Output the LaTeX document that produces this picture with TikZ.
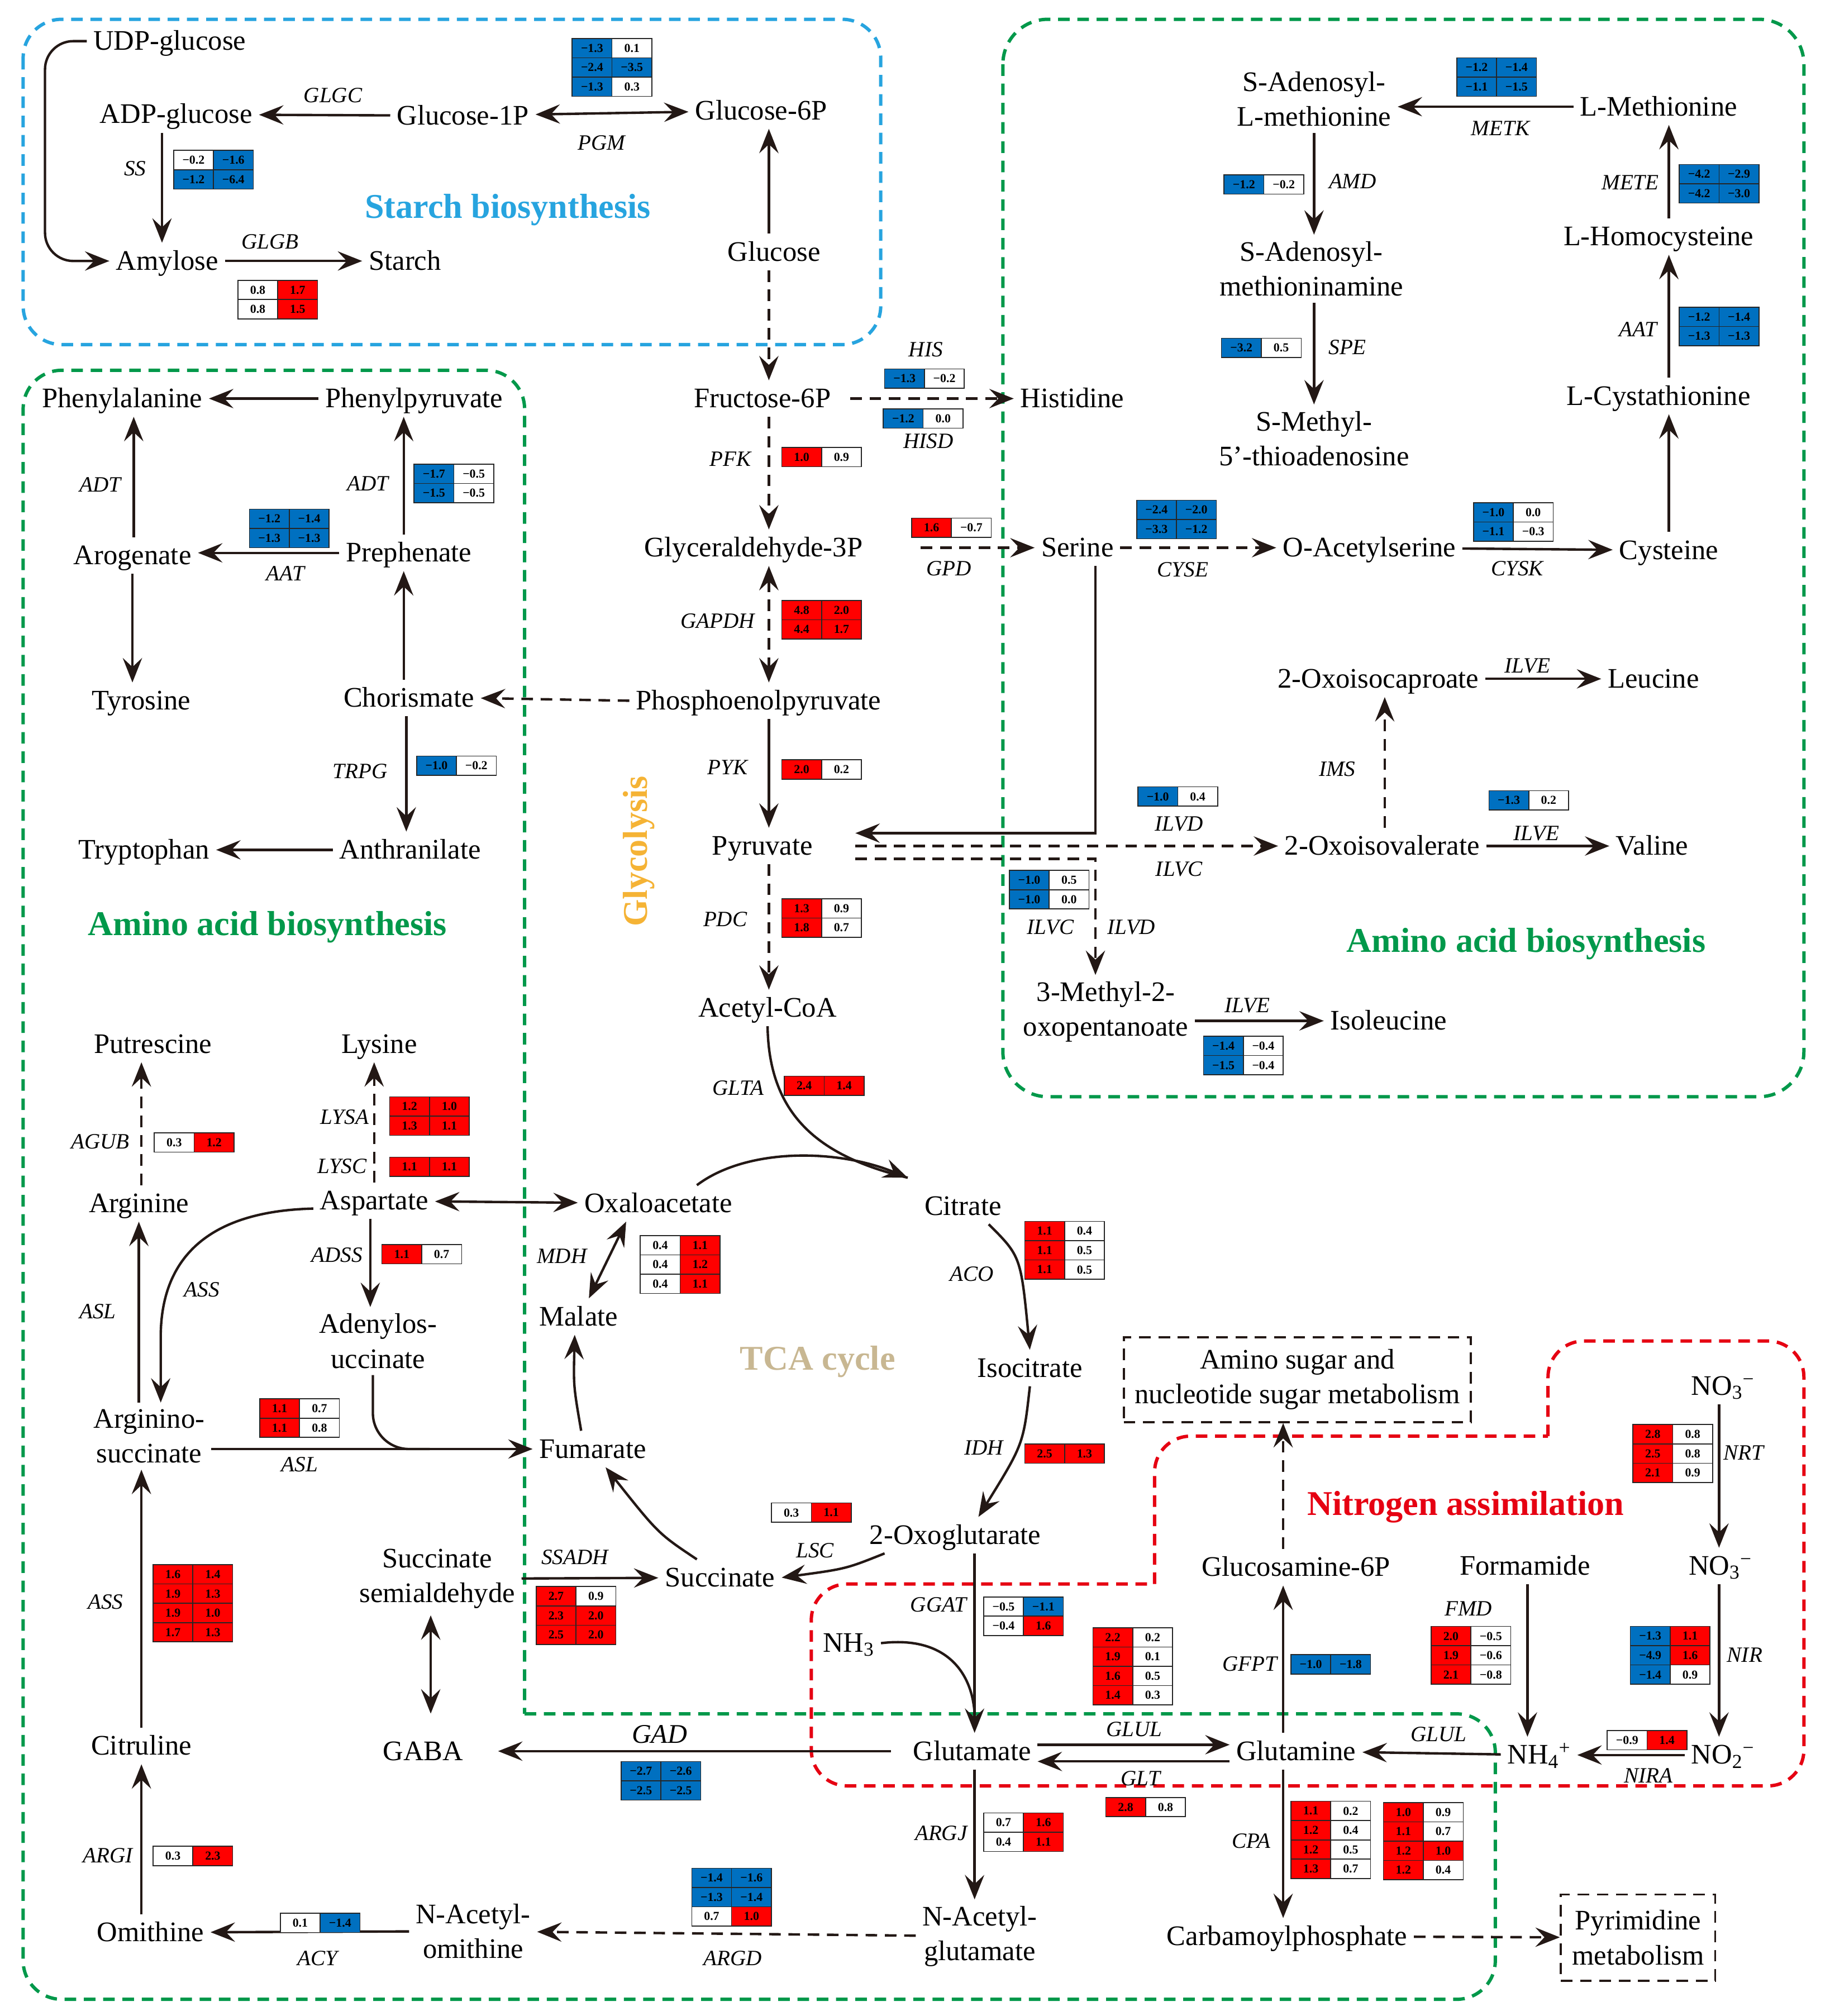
\documentclass[tikz,border=0pt]{standalone}
\usepackage{fontspec}
\setmainfont{Liberation Serif}
\usetikzlibrary{arrows.meta}
\definecolor{arr}{HTML}{231815}
\definecolor{hB}{HTML}{0070C0}
\definecolor{hR}{HTML}{FF0000}
\definecolor{hW}{HTML}{FFFFFF}
\definecolor{sky}{HTML}{27A4DF}
\definecolor{grn}{HTML}{00984A}
\definecolor{nred}{HTML}{E60012}
\definecolor{tcac}{HTML}{C8B792}
\definecolor{glyc}{HTML}{F5B335}
\newcommand\hr[6]{%
  \node[hc,fill=#3] (h#1-#2a) at ({#1+15.5},{#2+7.5}) {#4};
  \node[hc,fill=#5] (h#1-#2b) at ({#1+46.5},{#2+7.5}) {#6};}
\begin{document}
\begin{tikzpicture}[x=1pt,y=-1pt,
  met/.style={font=\fontsize{22}{27}\selectfont, inner sep=5pt, text height=16pt, text depth=2pt},
  metm/.style={font=\fontsize{22}{27}\selectfont, inner sep=5pt, align=center},
  enz/.style={font=\itshape\fontsize{17}{20}\selectfont, inner sep=1pt},
  ttl/.style={font=\bfseries\fontsize{27}{30}\selectfont, inner sep=0pt},
  hc/.style={draw=black!85, line width=0.7pt, minimum width=31pt, minimum height=15pt, inner sep=0pt, font=\bfseries\fontsize{9.5}{10}\selectfont},
  ln/.style={draw=arr, line width=1.9pt},
  ahead/.style={-{Stealth[length=19pt,width=15pt,inset=7pt]}},
  ar/.style={ln, ahead},
  arb/.style={ln, {Stealth[length=19pt,width=15pt,inset=7pt]}-{Stealth[length=19pt,width=15pt,inset=7pt]}},
  dsh/.style={dash pattern=on 9pt off 6pt},
  gbox/.style={draw=grn, line width=2.6pt, dash pattern=on 9pt off 6pt},
  bbox/.style={draw=sky, line width=2.6pt, dash pattern=on 9pt off 6pt},
  rbox/.style={draw=nred, line width=2.6pt, dash pattern=on 9pt off 6pt},
  kbox/.style={metm, draw=arr, line width=1.6pt, dash pattern=on 9pt off 6pt, inner sep=2pt}]
\useasboundingbox (0,0) rectangle (1423,1568);
\fill[white] (0,0) rectangle (1423,1568);

% ---------- region frames ----------
\draw[bbox, rounded corners=30pt] (18,15) rectangle (685,268);
\draw[gbox, rounded corners=35pt] (780,15) rectangle (1403,853);
\draw[gbox, rounded corners=30pt] (408,1333) -- (1163,1333) -- (1163,1555) -- (18,1555) -- (18,288) -- (408,288) -- (408,1333);
\draw[rbox, rounded corners=28pt] (1204,1117) -- (1204,1043) -- (1403,1043) -- (1403,1389) -- (631,1389) -- (631,1232) -- (898,1232);
\draw[rbox, rounded corners=28pt] (898,1232) -- (898,1117) -- (1204,1117);

% ---------- titles ----------
\node[ttl,text=sky] (t1) at (395,163) {Starch biosynthesis};
\node[ttl,text=grn] (t2) at (208,721) {Amino acid biosynthesis};
\node[ttl,text=grn] (t3) at (1187,734) {Amino acid biosynthesis};
\node[ttl,text=tcac] (t4) at (636,1059) {TCA cycle};
\node[ttl,text=nred] (t5) at (1140,1172) {Nitrogen assimilation};
\node[ttl,text=glyc,rotate=90] (t6) at (497,662) {Glycolysis};

% ---------- metabolites ----------
\node[met] (udp) at (132,32) {UDP-glucose};
\node[met] (adp) at (137,89) {ADP-glucose};
\node[met] (g1p) at (360,90) {Glucose-1P};
\node[met] (g6p) at (592,86) {Glucose-6P};
\node[met] (amy) at (130,203) {Amylose};
\node[met] (starch) at (315,203) {Starch};
\node[met] (glc) at (602,196) {Glucose};
\node[metm] (sam) at (1022,77) {S-Adenosyl-\\L-methionine};
\node[met] (lmet) at (1290,83) {L-Methionine};
\node[metm] (samn) at (1020,209) {S-Adenosyl-\\methioninamine};
\node[metm] (mta) at (1022,341) {S-Methyl-\\5’-thioadenosine};
\node[met] (hcy) at (1290,184) {L-Homocysteine};
\node[met] (cysth) at (1290,308) {L-Cystathionine};
\node[met] (cys) at (1298,428) {Cysteine};
\node[met] (ser) at (838,426) {Serine};
\node[met] (oas) at (1065,426) {O-Acetylserine};
\node[met] (his) at (834,310) {Histidine};
\node[met] (f6p) at (593,310) {Fructose-6P};
\node[met] (g3p) at (586,426) {Glyceraldehyde-3P};
\node[met] (pep) at (590,545) {Phosphoenolpyruvate};
\node[met] (pyr) at (593,658) {Pyruvate};
\node[met] (oiv) at (1075,658) {2-Oxoisovalerate};
\node[met] (oic) at (1072,528) {2-Oxoisocaproate};
\node[met] (leu) at (1286,528) {Leucine};
\node[met] (val) at (1285,658) {Valine};
\node[metm] (mop) at (860,787) {3-Methyl-2-\\oxopentanoate};
\node[met] (ile) at (1080,794) {Isoleucine};
\node[met] (acoa) at (597,784) {Acetyl-CoA};
\node[met] (phe) at (95,310) {Phenylalanine};
\node[met] (phpyr) at (322,310) {Phenylpyruvate};
\node[met] (arog) at (103,432) {Arogenate};
\node[met] (preph) at (318,430) {Prephenate};
\node[met] (tyr) at (110,545) {Tyrosine};
\node[met] (chor) at (318,543) {Chorismate};
\node[met] (anth) at (319,661) {Anthranilate};
\node[met] (trp) at (112,661) {Tryptophan};
\node[met] (put) at (119,812) {Putrescine};
\node[met] (lys) at (295,812) {Lysine};
\node[met] (arg) at (108,936) {Arginine};
\node[met] (asp) at (291,934) {Aspartate};
\node[met] (oaa) at (512,936) {Oxaloacetate};
\node[met] (cit) at (749,938) {Citrate};
\node[metm] (argsuc) at (116,1117) {Arginino-\\succinate};
\node[metm] (aden) at (294,1043) {Adenylos-\\uccinate};
\node[met] (mal) at (450,1024) {Malate};
\node[met] (fum) at (461,1127) {Fumarate};
\node[met] (icit) at (801,1064) {Isocitrate};
\node[met] (oxg) at (743,1194) {2-Oxoglutarate};
\node[met] (suc) at (560,1227) {Succinate};
\node[metm] (ssa) at (340,1228) {Succinate\\semialdehyde};
\node[met] (gaba) at (329,1362) {GABA};
\node[met] (glu) at (756,1362) {Glutamate};
\node[met] (gln) at (1008,1362) {Glutamine};
\node[met] (citr) at (110,1358) {Citruline};
\node[met] (orn) at (117,1503) {Omithine};
\node[metm] (nacorn) at (368,1502) {N-Acetyl-\\omithine};
\node[metm] (nacglu) at (762,1506) {N-Acetyl-\\glutamate};
\node[met] (nh3) at (660,1278) {NH\textsubscript{3}};
\node[met] (gam) at (1008,1219) {Glucosamine-6P};
\node[met] (carb) at (1001,1506) {Carbamoylphosphate};
\node[met] (form) at (1186,1218) {Formamide};
\node[met] (nh4) at (1197,1365) {NH\textsubscript{4}\textsuperscript{+}};
\node[met] (no3a) at (1340,1078) {NO\textsubscript{3}\textsuperscript{−}};
\node[met] (no3b) at (1338,1218) {NO\textsubscript{3}\textsuperscript{−}};
\node[met] (no2) at (1340,1365) {NO\textsubscript{2}\textsuperscript{−}};
\node[kbox, minimum width=270pt, minimum height=66pt] (amino) at (1009,1073) {Amino sugar and\\nucleotide sugar metabolism};
\node[kbox, minimum width=120pt, minimum height=67pt] (pyrim) at (1274,1507) {Pyrimidine\\metabolism};
\coordinate (tipc) at (706,916);
\coordinate (w1) at (35,32);
\coordinate (w2) at (35,203);

% ---------- connectors ----------
\draw[ar, rounded corners=22pt] (udp.west) -- (w1) -- (w2) -- (amy.west);
\draw[ar] (g1p) -- (adp);
\draw[arb] (g1p) -- (g6p);
\draw[ar] ([xshift=-11pt]adp.south) -- ([xshift=-11pt]adp.south |- amy.north);
\draw[ar] (amy) -- (starch);
\draw[ar] ([xshift=-4pt]glc.north) -- ([xshift=-4pt]glc.north |- g6p.south);
\draw[ar,dsh] ([xshift=-4pt]glc.south) -- ([xshift=-4pt]glc.south |- f6p.north);
\draw[ar,dsh] ([xshift=5pt]f6p.south) -- ([xshift=5pt]f6p.south |- g3p.north);
\draw[arb,dsh] ([xshift=12pt]g3p.south) -- ([xshift=12pt]g3p.south |- pep.north);
\draw[ar,dsh] (pep.west) -- (chor.east);
\draw[ar] ([xshift=8pt]pep.south) -- ([xshift=8pt]pep.south |- pyr.north);
\draw[ar,dsh] ([xshift=5pt]pyr.south) -- ([xshift=5pt]pyr.south |- acoa.north);
\draw[ar] ([xshift=14pt]ser.south) |- ([xshift=28pt,yshift=10pt]pyr.east);
\draw[ar,dsh] ([xshift=28pt]pyr.east) -- (oiv.west);
\draw[ar,dsh] ([xshift=28pt,yshift=-10pt]pyr.east) -| ([xshift=-8pt]mop.north);
\draw[ar,dsh] (ser) -- (oas);
\draw[ar] (oas) -- (cys);
\draw[ar] (cys.north) -- (cys.north |- cysth.south);
\draw[ar] ([xshift=8pt]cysth.north) -- ([xshift=8pt]cysth.north |- hcy.south);
\draw[ar] ([xshift=8pt]hcy.north) -- ([xshift=8pt]hcy.north |- lmet.south);
\draw[ar] (lmet.west) -- (lmet.west -| sam.east);
\draw[ar] (sam.south) -- (sam.south |- samn.north);
\draw[ar] ([xshift=2pt]samn.south) -- ([xshift=2pt]samn.south |- mta.north);
\draw[ar,dsh] ([xshift=10pt]f6p.east) -- (his.west);
\draw[ar,dsh] ([xshift=40pt]g3p.east) -- (ser.west);
\draw[ar,dsh] ([xshift=2pt]oiv.north) -- ([xshift=2pt]oiv.north |- oic.south);
\draw[ar] (oic) -- (leu);
\draw[ar] (oiv) -- (val);
\draw[ar] (mop.east |- ile.west) -- (ile.west);
\draw[ar] (phpyr) -- (phe);
\draw[ar] ([xshift=1pt]arog.north) -- ([xshift=1pt]arog.north |- phe.south);
\draw[ar] ([xshift=-4pt]preph.north) -- ([xshift=-4pt]preph.north |- phpyr.south);
\draw[ar] (preph.west) -- (preph.west -| arog.east);
\draw[ar] (arog.south) -- (arog.south |- tyr.north);
\draw[ar] ([xshift=-4pt]chor.north) -- ([xshift=-4pt]chor.north |- preph.south);
\draw[ar] ([xshift=-2pt]chor.south) -- ([xshift=-2pt]chor.south |- anth.north);
\draw[ar] (anth) -- (trp);
\draw[ar,dsh] ([xshift=2pt]arg.north) -- ([xshift=2pt]arg.north |- put.south);
\draw[ar,dsh] (asp.north) -- (asp.north |- lys.south);
\draw[arb] (asp) -- (oaa);
\draw[ar] ([yshift=-6pt]asp.west) .. controls (160,942) and (125,980) .. (125,1040) -- ([xshift=9pt]argsuc.north);
\draw[ar] ([xshift=-8pt]argsuc.north) -- ([xshift=-8pt]argsuc.north |- arg.south);
\draw[ar] ([xshift=-3pt]asp.south) -- ([xshift=-3pt]asp.south |- aden.north);
\draw[ar] (argsuc.east |- fum.west) -- (fum.west);
\draw[ln, rounded corners=28pt] ([xshift=-4pt]aden.south) |- ([xshift=-80pt]fum.west);
\draw[ar] ([xshift=-9pt]fum.north) .. controls +(-6,-35) .. ([xshift=-3pt]mal.south);
\draw[arb] ([xshift=8pt]mal.north) -- ([xshift=-25pt]oaa.south);
\draw[ln] (acoa.south) .. controls (598,870) and (640,900) .. (tipc);
\draw[ar] ([xshift=30pt]oaa.north) .. controls (580,893) and (650,893) .. (tipc);
\draw[ar] ([xshift=20pt]cit.south) .. controls +(25,25) .. (icit.north);
\draw[ar] (icit.south) .. controls +(-5,45) .. ([xshift=18pt]oxg.north);
\draw[ar] ([xshift=-55pt]oxg.south) .. controls +(-30,12) .. (suc.east);
\draw[ar] ([xshift=-18pt]suc.north) .. controls +(-30,-20) .. ([xshift=10pt]fum.south);
\draw[ar] (ssa) -- (suc);
\draw[arb] ([xshift=-5pt]ssa.south) -- ([xshift=-5pt,yshift=15pt]ssa.south |- gaba.north);
\draw[ar] ([xshift=-12pt]glu.west) -- ([xshift=22pt]gaba.east);
\draw[ar] (citr.north) -- (citr.north |- argsuc.south);
\draw[ar] ([xshift=-7pt]orn.north) -- ([xshift=-7pt]orn.north |- citr.south);
\draw[ar] (nacorn) -- (orn);
\draw[ar,dsh] (nacglu) -- (nacorn);
\draw[ar] ([xshift=15pt]oxg.south) -- ([xshift=15pt]oxg.south |- glu.north);
\draw[ln] (nh3.east) .. controls (735,1272) and (756,1300) .. ([xshift=2pt,yshift=15pt]glu.north);
\draw[ar] ([xshift=2pt]glu.south) -- ([xshift=2pt]glu.south |- nacglu.north);
\draw[ar] ([yshift=5pt]glu.east) -- ([yshift=5pt]gln.west);
\draw[ar] ([yshift=-8pt]gln.west) -- ([yshift=-8pt]glu.east);
\draw[ar] ([xshift=-10pt]gln.north) -- ([xshift=-10pt]gln.north |- gam.south);
\draw[ar,dsh] ([xshift=-10pt]gam.north) -- ([xshift=-10pt]gam.north |- amino.south);
\draw[ar] ([xshift=-10pt]gln.south) -- ([xshift=-10pt]gln.south |- carb.north);
\draw[ar,dsh] (carb) -- (pyrim);
\draw[ar] ([xshift=2pt]form.south) -- ([xshift=2pt]form.south |- nh4.north);
\draw[ar] (nh4) -- (gln);
\draw[ar] ([xshift=-3pt]no3a.south) -- ([xshift=-3pt]no3a.south |- no3b.north);
\draw[ar] ([xshift=-1pt]no3b.south) -- ([xshift=-1pt]no3b.south |- no2.north);
\draw[ar] (no2) -- (nh4);

% ---------- enzyme labels ----------
\node[enz] (lGLGC) at (259,74) {GLGC};
\node[enz] (lPGM) at (468,111) {PGM};
\node[enz] (lSS) at (105,131) {SS};
\node[enz] (lGLGB) at (210,188) {GLGB};
\node[enz] (lMETK) at (1167,100) {METK};
\node[enz] (lAMD) at (1052,141) {AMD};
\node[enz] (lMETE) at (1268,142) {METE};
\node[enz] (lSPE) at (1048,270) {SPE};
\node[enz] (lAAT1) at (1274,256) {AAT};
\node[enz] (lHIS) at (720,272) {HIS};
\node[enz] (lHISD) at (722,343) {HISD};
\node[enz] (lPFK) at (568,357) {PFK};
\node[enz] (lGPD) at (738,442) {GPD};
\node[enz] (lCYSE) at (920,443) {CYSE};
\node[enz] (lCYSK) at (1180,442) {CYSK};
\node[enz] (lADT1) at (78,377) {ADT};
\node[enz] (lADT2) at (286,376) {ADT};
\node[enz] (lAAT2) at (222,446) {AAT};
\node[enz] (lTRPG) at (280,600) {TRPG};
\node[enz] (lGAPDH) at (558,483) {GAPDH};
\node[enz] (lPYK) at (566,597) {PYK};
\node[enz] (lPDC) at (564,715) {PDC};
\node[enz] (lILVD1) at (917,641) {ILVD};
\node[enz] (lILVC1) at (917,676) {ILVC};
\node[enz] (lILVC2) at (817,721) {ILVC};
\node[enz] (lILVD2) at (880,721) {ILVD};
\node[enz] (lIMS) at (1040,598) {IMS};
\node[enz] (lILVE1) at (1188,518) {ILVE};
\node[enz] (lILVE2) at (1195,648) {ILVE};
\node[enz] (lILVE3) at (970,782) {ILVE};
\node[enz] (lGLTA) at (574,846) {GLTA};
\node[enz] (lAGUB) at (78,888) {AGUB};
\node[enz] (lLYSA) at (268,869) {LYSA};
\node[enz] (lLYSC) at (266,907) {LYSC};
\node[enz] (lADSS) at (262,976) {ADSS};
\node[enz] (lASS1) at (157,1003) {ASS};
\node[enz] (lASL1) at (76,1020) {ASL};
\node[enz] (lMDH) at (437,977) {MDH};
\node[enz] (lACO) at (756,991) {ACO};
\node[enz] (lASL2) at (233,1139) {ASL};
\node[enz] (lIDH) at (765,1126) {IDH};
\node[enz] (lLSC) at (634,1206) {LSC};
\node[enz] (lSSADH) at (447,1211) {SSADH};
\node[enz] (lASS2) at (82,1246) {ASS};
\node[enz] (lGGAT) at (730,1248) {GGAT};
\node[enz] (lGFPT) at (972,1294) {GFPT};
\node[enz] (lFMD) at (1142,1251) {FMD};
\node[enz] (lNRT) at (1356,1130) {NRT};
\node[enz] (lNIR) at (1357,1287) {NIR};
\node[enz,font=\itshape\fontsize{21}{24}\selectfont] (lGAD) at (513,1349) {GAD};
\node[enz] (lGLUL1) at (882,1345) {GLUL};
\node[enz] (lGLT) at (887,1383) {GLT};
\node[enz] (lGLUL2) at (1119,1349) {GLUL};
\node[enz] (lNIRA) at (1282,1381) {NIRA};
\node[enz] (lARGJ) at (732,1426) {ARGJ};
\node[enz] (lCPA) at (973,1432) {CPA};
\node[enz] (lARGI) at (84,1443) {ARGI};
\node[enz] (lACY) at (247,1523) {ACY};
\node[enz] (lARGD) at (570,1523) {ARGD};

% ---------- heat-map boxes ----------
\hr{445}{30}{hB}{−1.3}{hW}{0.1}
\hr{445}{45}{hB}{−2.4}{hB}{−3.5}
\hr{445}{60}{hB}{−1.3}{hW}{0.3}
\hr{135}{117}{hW}{−0.2}{hB}{−1.6}
\hr{135}{132}{hB}{−1.2}{hB}{−6.4}
\hr{185}{218}{hW}{0.8}{hR}{1.7}
\hr{185}{233}{hW}{0.8}{hR}{1.5}
\hr{1133}{45}{hB}{−1.2}{hB}{−1.4}
\hr{1133}{60}{hB}{−1.1}{hB}{−1.5}
\hr{952}{136}{hB}{−1.2}{hW}{−0.2}
\hr{1306}{128}{hB}{−4.2}{hB}{−2.9}
\hr{1306}{143}{hB}{−4.2}{hB}{−3.0}
\hr{950}{263}{hB}{−3.2}{hW}{0.5}
\hr{1306}{239}{hB}{−1.2}{hB}{−1.4}
\hr{1306}{254}{hB}{−1.3}{hB}{−1.3}
\hr{688}{287}{hB}{−1.3}{hW}{−0.2}
\hr{687}{318}{hB}{−1.2}{hW}{0.0}
\hr{608}{348}{hR}{1.0}{hW}{0.9}
\hr{709}{403}{hR}{1.6}{hW}{−0.7}
\hr{884}{389}{hB}{−2.4}{hB}{−2.0}
\hr{884}{404}{hB}{−3.3}{hB}{−1.2}
\hr{1146}{391}{hB}{−1.0}{hW}{0.0}
\hr{1146}{406}{hB}{−1.1}{hW}{−0.3}
\hr{322}{361}{hB}{−1.7}{hW}{−0.5}
\hr{322}{376}{hB}{−1.5}{hW}{−0.5}
\hr{194}{396}{hB}{−1.2}{hB}{−1.4}
\hr{194}{411}{hB}{−1.3}{hB}{−1.3}
\hr{608}{467}{hR}{4.8}{hR}{2.0}
\hr{608}{482}{hR}{4.4}{hR}{1.7}
\hr{324}{588}{hB}{−1.0}{hW}{−0.2}
\hr{608}{591}{hR}{2.0}{hW}{0.2}
\hr{885}{612}{hB}{−1.0}{hW}{0.4}
\hr{1158}{615}{hB}{−1.3}{hW}{0.2}
\hr{785}{677}{hB}{−1.0}{hW}{0.5}
\hr{785}{692}{hB}{−1.0}{hW}{0.0}
\hr{608}{699}{hR}{1.3}{hW}{0.9}
\hr{608}{714}{hR}{1.8}{hW}{0.7}
\hr{936}{806}{hB}{−1.4}{hW}{−0.4}
\hr{936}{821}{hB}{−1.5}{hW}{−0.4}
\hr{610}{837}{hR}{2.4}{hR}{1.4}
\hr{303}{853}{hR}{1.2}{hR}{1.0}
\hr{303}{868}{hR}{1.3}{hR}{1.1}
\hr{120}{881}{hW}{0.3}{hR}{1.2}
\hr{303}{900}{hR}{1.1}{hR}{1.1}
\hr{498}{961}{hW}{0.4}{hR}{1.1}
\hr{498}{976}{hW}{0.4}{hR}{1.2}
\hr{498}{991}{hW}{0.4}{hR}{1.1}
\hr{797}{950}{hR}{1.1}{hW}{0.4}
\hr{797}{965}{hR}{1.1}{hW}{0.5}
\hr{797}{980}{hR}{1.1}{hW}{0.5}
\hr{297}{968}{hR}{1.1}{hW}{0.7}
\hr{202}{1088}{hR}{1.1}{hW}{0.7}
\hr{202}{1103}{hR}{1.1}{hW}{0.8}
\hr{797}{1123}{hR}{2.5}{hR}{1.3}
\hr{1270}{1108}{hR}{2.8}{hW}{0.8}
\hr{1270}{1123}{hR}{2.5}{hW}{0.8}
\hr{1270}{1138}{hR}{2.1}{hW}{0.9}
\hr{600}{1169}{hW}{0.3}{hR}{1.1}
\hr{417}{1234}{hR}{2.7}{hW}{0.9}
\hr{417}{1249}{hR}{2.3}{hR}{2.0}
\hr{417}{1264}{hR}{2.5}{hR}{2.0}
\hr{119}{1217}{hR}{1.6}{hR}{1.4}
\hr{119}{1232}{hR}{1.9}{hR}{1.3}
\hr{119}{1247}{hR}{1.9}{hR}{1.0}
\hr{119}{1262}{hR}{1.7}{hR}{1.3}
\hr{765}{1242}{hW}{−0.5}{hB}{−1.1}
\hr{765}{1257}{hW}{−0.4}{hR}{1.6}
\hr{850}{1266}{hR}{2.2}{hW}{0.2}
\hr{850}{1281}{hR}{1.9}{hW}{0.1}
\hr{850}{1296}{hR}{1.6}{hW}{0.5}
\hr{850}{1311}{hR}{1.4}{hW}{0.3}
\hr{1113}{1265}{hR}{2.0}{hW}{−0.5}
\hr{1113}{1280}{hR}{1.9}{hW}{−0.6}
\hr{1113}{1295}{hR}{2.1}{hW}{−0.8}
\hr{1268}{1265}{hB}{−1.3}{hR}{1.1}
\hr{1268}{1280}{hB}{−4.9}{hR}{1.6}
\hr{1268}{1295}{hB}{−1.4}{hW}{0.9}
\hr{1004}{1287}{hB}{−1.0}{hB}{−1.8}
\hr{1250}{1346}{hW}{−0.9}{hR}{1.4}
\hr{483}{1370}{hB}{−2.7}{hB}{−2.6}
\hr{483}{1385}{hB}{−2.5}{hB}{−2.5}
\hr{860}{1398}{hR}{2.8}{hW}{0.8}
\hr{1004}{1401}{hR}{1.1}{hW}{0.2}
\hr{1004}{1416}{hR}{1.2}{hW}{0.4}
\hr{1004}{1431}{hR}{1.2}{hW}{0.5}
\hr{1004}{1446}{hR}{1.3}{hW}{0.7}
\hr{1076}{1402}{hR}{1.0}{hW}{0.9}
\hr{1076}{1417}{hR}{1.1}{hW}{0.7}
\hr{1076}{1432}{hR}{1.2}{hR}{1.0}
\hr{1076}{1447}{hR}{1.2}{hW}{0.4}
\hr{765}{1410}{hW}{0.7}{hR}{1.6}
\hr{765}{1425}{hW}{0.4}{hR}{1.1}
\hr{119}{1436}{hW}{0.3}{hR}{2.3}
\hr{538}{1453}{hB}{−1.4}{hB}{−1.6}
\hr{538}{1468}{hB}{−1.3}{hB}{−1.4}
\hr{538}{1483}{hW}{0.7}{hR}{1.0}
\hr{218}{1488}{hW}{0.1}{hB}{−1.4}
\end{tikzpicture}
\end{document}
